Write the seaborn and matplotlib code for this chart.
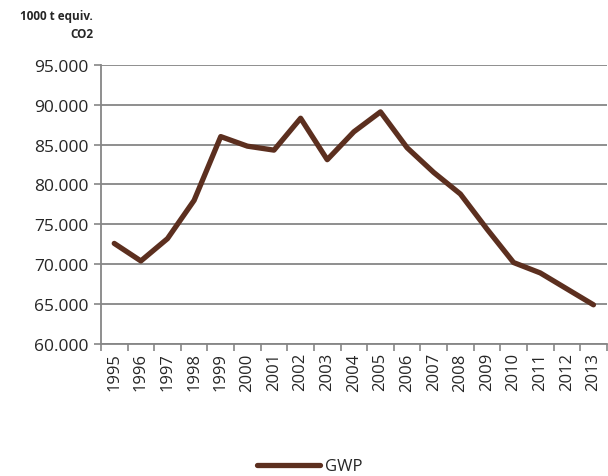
import numpy as np
import pandas as pd
import seaborn as sns
import matplotlib.pyplot as plt

# Data
years = [str(y) for y in range(1995, 2014)]
gwp = [72.6, 70.4, 73.2, 78.0, 86.0, 84.8, 84.3, 88.3, 83.1, 86.6,
       89.1, 84.6, 81.5, 78.8, 74.4, 70.2, 68.9, 66.9, 64.9]
gwp = [v * 1000 for v in gwp]
y_ticks = list(range(60000, 95001, 5000))

df = pd.DataFrame({'year': years, 'GWP': gwp})

sns.set_style('white')
plt.rcParams['font.family'] = ['Open Sans', 'DejaVu Sans']

fig = plt.figure(figsize=(6.08, 4.77), dpi=100)
ax = fig.add_axes([0.166, 0.277, 0.832, 0.585])

grey = '#868686'
line_col = '#5C2F1F'

sns.lineplot(data=df, x='year', y='GWP', ax=ax, color=line_col,
             linewidth=3.8, label='GWP', sort=False)

ax.set_ylim(60000, 95000)
ax.set_yticks(y_ticks)
ax.set_yticklabels([f'{v:,}'.replace(',', '.') for v in y_ticks], fontsize=12.5)
ax.yaxis.grid(True, color=grey, linewidth=1.3)
ax.set_axisbelow(True)

n = len(years)
ax.set_xlim(-0.5, n - 0.5)
ax.set_xticks(np.arange(n), labels=years, minor=True)
ax.set_xticks(np.arange(-0.5, n, 1.0), labels=[])
ax.tick_params(axis='x', which='minor', length=0, rotation=90, labelsize=12, pad=6)
ax.tick_params(axis='x', which='major', length=5, color=grey, width=1.2, direction='out')
ax.tick_params(axis='y', length=5, color=grey, width=1.2, direction='out', pad=4)
ax.tick_params(axis='both', bottom=True, left=True)

for side in ['top', 'right']:
    ax.spines[side].set_visible(False)
for side in ['left', 'bottom']:
    ax.spines[side].set_color(grey)
    ax.spines[side].set_linewidth(1.3)

ax.set_xlabel('')
ax.set_ylabel('')

fig.text(0.153, 0.978, '1000 t equiv.\nCO2', ha='right', va='top',
         fontsize=8.5, fontweight='bold', linespacing=1.5)

ax.get_legend().remove()
handles, labels = ax.get_legend_handles_labels()
fig.legend(handles, labels, loc='center', bbox_to_anchor=(0.51, 0.02),
           frameon=False, fontsize=12, handlelength=3.8, handletextpad=0.3)

fig.savefig('out.png', dpi=100)
